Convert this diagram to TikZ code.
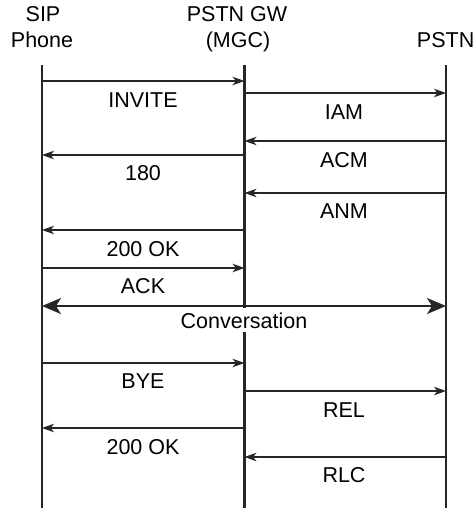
\documentclass[tikz,border=0pt]{standalone}
\usepackage{fontspec}
\setmainfont{Liberation Sans}
\usetikzlibrary{arrows.meta}
\begin{document}
\begin{tikzpicture}[x=1pt,y=-1pt,
  lbl/.style={anchor=base,inner sep=0pt,font=\fontsize{21.5}{24}\selectfont},
  life/.style={line width=2.6pt,color=black!85},
  msg/.style={line width=1.3pt,color=black!85,-{Stealth[length=12pt,width=8.5pt,inset=3.5pt]}},
  conv/.style={line width=2pt,color=black!85,{Stealth[length=19pt,width=16pt,inset=5pt]}-{Stealth[length=19pt,width=16pt,inset=5pt]}}]
\useasboundingbox (0,0) rectangle (475,508);
% headers
\node[lbl] (hsip1) at (43,22) {SIP};
\node[lbl] (hsip2) at (42,48) {Phone};
\node[lbl] (hgw1) at (237,22) {PSTN GW};
\node[lbl] (hgw2) at (238,48) {(MGC)};
\node[lbl,anchor=base east] (hpstn) at (474.5,48) {PSTN};
% lifeline ends
\coordinate (s0) at (42,65);  \coordinate (s1) at (42,508);
\coordinate (g0) at (244.5,65); \coordinate (g1) at (244.5,508);
\coordinate (p0) at (446,65); \coordinate (p1) at (446,508);
\draw[life] (s0) -- (s1);
\draw[life] (g0) -- (g1);
\draw[life] (p0) -- (p1);
% message points
\foreach \n/\y in {a/81,b/93,c/141,d/155,e/193,f/230,g/268,h/306,i/363,j/391,k/428,l/457}{
  \coordinate (S\n) at (42,\y);
  \coordinate (G\n) at (244.5,\y);
  \coordinate (P\n) at (446,\y);
}
\draw[msg] (Sa) -- (Ga);
\draw[msg] (Gb) -- (Pb);
\draw[msg] (Pc) -- (Gc);
\draw[msg] (Gd) -- (Sd);
\draw[msg] (Pe) -- (Ge);
\draw[msg] (Gf) -- (Sf);
\draw[msg] (Sg) -- (Gg);
\draw[conv] (Sh) -- (Ph);
\draw[msg] (Si) -- (Gi);
\draw[msg] (Gj) -- (Pj);
\draw[msg] (Gk) -- (Sk);
\draw[msg] (Pl) -- (Gl);
% labels
\node[lbl] (l1) at (143,108) {INVITE};
\node[lbl] (l2) at (344,120) {IAM};
\node[lbl] (l3) at (344,167) {ACM};
\node[lbl] (l4) at (143,180) {180};
\node[lbl] (l5) at (344,218) {ANM};
\node[lbl] (l6) at (143,256) {200 OK};
\node[lbl] (l7) at (143,293) {ACK};
\node[lbl,fill=white,inner ysep=4pt,inner xsep=0pt] (l8) at (244,328) {Conversation};
\node[lbl] (l9) at (143,388) {BYE};
\node[lbl] (l10) at (344,417) {REL};
\node[lbl] (l11) at (143,454) {200 OK};
\node[lbl] (l12) at (344,482) {RLC};
\end{tikzpicture}
\end{document}
